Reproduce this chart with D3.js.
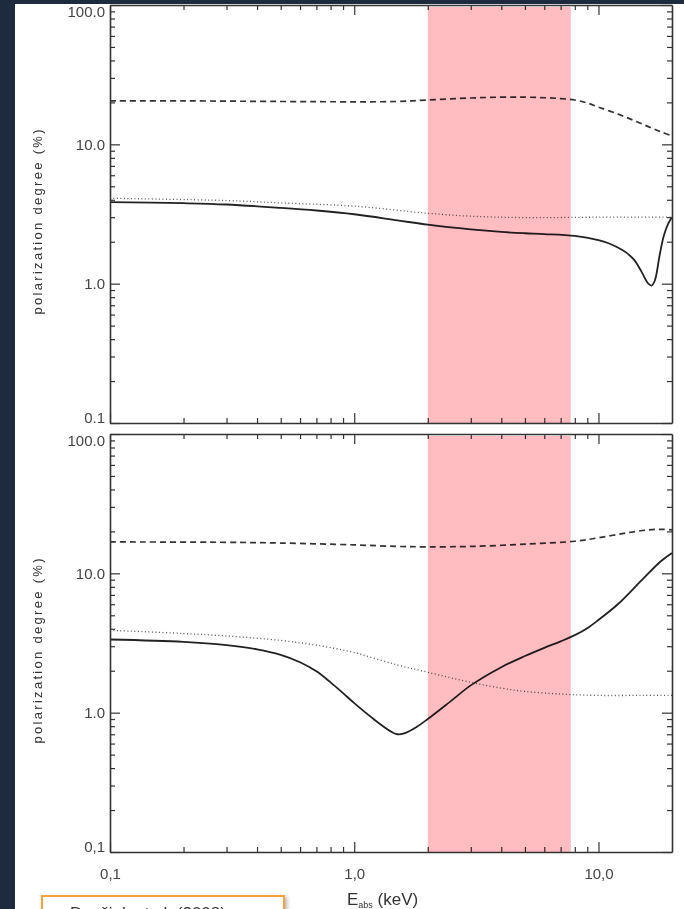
<!DOCTYPE html>
<html>
<head>
<meta charset="utf-8">
<script src="https://cdn.jsdelivr.net/npm/d3@7"></script>
<style>
  body { margin: 0; background: #1e2b3e; }
  svg { display: block; }
  text { font-family: "Liberation Sans", Arial, sans-serif; }
</style>
</head>
<body>
<div id="graph"></div>
<script>
// Energy band highlighted in pink (keV)
const band = [2, 7.7]

// Top panel curves: [energy keV, polarization %]
const topDashed = [[0.1, 20.5], [0.2, 20.5], [0.5, 20.3], [1, 20.2], [1.5, 20.3], [2, 20.8], [3, 21.5], [4, 21.8], [5, 21.8], [6, 21.6], [7, 21.3], [8, 20.8], [9, 19.8], [10, 18.5], [12, 16.5], [14, 14.8], [16, 13.4], [18, 12.3], [20, 11.5]]
const topSolid = [[0.1, 3.85], [0.2, 3.78], [0.3, 3.7], [0.5, 3.5], [0.7, 3.35], [1, 3.15], [1.5, 2.85], [2, 2.65], [3, 2.45], [4, 2.35], [5, 2.3], [6, 2.27], [8, 2.2], [10, 2.05], [11, 1.95], [12, 1.82], [13, 1.67], [14, 1.48], [15, 1.22], [16, 1.0], [16.5, 0.97], [17, 1.05], [17.8, 1.6], [18.5, 2.2], [19.3, 2.7], [20, 3.0]]
const topDotted = [[0.1, 4.1], [0.3, 3.95], [0.5, 3.8], [1, 3.6], [2, 3.2], [3, 3.05], [5, 2.98], [10, 3.0], [20, 3.0]]

// Bottom panel curves
const botDashed = [[0.1, 16.8], [0.3, 16.7], [0.5, 16.5], [1, 16.0], [1.5, 15.6], [2, 15.5], [3, 15.6], [5, 16.2], [8, 17.0], [10, 18.0], [13, 19.5], [16, 20.5], [18, 20.7], [20, 20.5]]
const botSolid = [[0.1, 3.35], [0.2, 3.22], [0.3, 3.05], [0.4, 2.85], [0.5, 2.6], [0.6, 2.3], [0.7, 1.98], [0.8, 1.65], [0.9, 1.38], [1.0, 1.17], [1.2, 0.9], [1.4, 0.74], [1.5, 0.7], [1.6, 0.71], [1.8, 0.79], [2, 0.9], [2.5, 1.22], [3, 1.57], [4, 2.12], [5, 2.55], [6, 2.92], [7, 3.25], [8, 3.6], [9, 4.04], [10, 4.63], [12, 6.0], [15, 8.9], [18, 12.2], [20, 14.0]]
const botDotted = [[0.1, 3.9], [0.2, 3.7], [0.3, 3.55], [0.5, 3.3], [0.7, 3.05], [1, 2.7], [1.5, 2.2], [2, 1.95], [3, 1.65], [4, 1.5], [5, 1.42], [7, 1.36], [10, 1.33], [15, 1.33], [20, 1.33]]

// Ticks
const xMajor = [0.1, 1, 10]
const xMajorLabels = ['0,1', '1,0', '10,0']
const xMinor = [0.2, 0.3, 0.4, 0.5, 0.6, 0.7, 0.8, 0.9, 2, 3, 4, 5, 6, 7, 8, 9]
const yMajor = [0.1, 1, 10, 100]
const yTopLabels = ['0.1', '1.0', '10.0', '100.0']
const yBotLabels = ['0,1', '1.0', '10.0', '100.0']
const yMinor = [0.2, 0.3, 0.4, 0.5, 0.6, 0.7, 0.8, 0.9, 2, 3, 4, 5, 6, 7, 8, 9, 20, 30, 40, 50, 60, 70, 80, 90]

const W = 684, H = 909
const svg = d3.select('#graph').append('svg').attr('width', W).attr('height', H)

// page background: white slide with dark frame on left/top
svg.append('rect').attr('width', W).attr('height', H).attr('fill', '#1e2b3e')
svg.append('rect').attr('x', 15).attr('y', 4).attr('width', W - 15).attr('height', H - 4).attr('fill', '#fff')

const x = d3.scaleLog().domain([0.1, 20]).range([110, 672])
const panels = [
  { y: d3.scaleLog().domain([0.1, 100]).range([423, 5]), series: [topDashed, topSolid, topDotted], labels: yTopLabels, xlabels: false },
  { y: d3.scaleLog().domain([0.1, 100]).range([852, 434]), series: [botDashed, botSolid, botDotted], labels: yBotLabels, xlabels: true }
]

const styles = [
  { stroke: '#333', width: 1.7, dash: '6,4' },
  { stroke: '#222', width: 1.8, dash: null },
  { stroke: '#555', width: 1.3, dash: '1,2.5' }
]

panels.forEach(function (p) {
  const y = p.y
  const [yb, yt] = y.range()
  const g = svg.append('g')

  // curves
  p.series.forEach(function (data, i) {
    g.append('path')
      .datum(data)
      .attr('fill', 'none')
      .attr('stroke', styles[i].stroke)
      .attr('stroke-width', styles[i].width)
      .attr('stroke-dasharray', styles[i].dash)
      .attr('d', d3.line()
        .x(function (d) { return x(d[0]) })
        .y(function (d) { return y(d[1]) })
        .curve(d3.curveCatmullRom.alpha(0.5)))
  })

  // axes, all ticks pointing inward
  const axes = [
    ['left', x.range()[0], y, yMajor, yMinor],
    ['right', x.range()[1], y, yMajor, yMinor],
    ['top', yt, x, xMajor, xMinor],
    ['bottom', yb, x, xMajor, xMinor]
  ]
  axes.forEach(function (a) {
    const make = { left: d3.axisLeft, right: d3.axisRight, top: d3.axisTop, bottom: d3.axisBottom }[a[0]]
    const horiz = a[0] === 'top' || a[0] === 'bottom'
    const tr = horiz ? 'translate(0,' + a[1] + ')' : 'translate(' + a[1] + ',0)'
    const major = g.append('g').attr('class', 'ax-' + a[0]).attr('transform', tr)
      .call(make(a[2]).tickValues(a[3]).tickSizeInner(-10).tickSizeOuter(0).tickPadding(a[0] === 'bottom' ? 16 : 5)
        .tickFormat(function (d, i) {
          if (a[0] === 'left') return p.labels[i]
          if (a[0] === 'bottom' && p.xlabels) return xMajorLabels[i]
          return ''
        }))
    g.append('g').attr('transform', tr)
      .call(make(a[2]).tickValues(a[4]).tickSizeInner(-5).tickSizeOuter(0).tickFormat(''))
      .select('.domain').remove()
    major.select('.domain').attr('stroke', '#333').attr('stroke-width', 1.6)
  })
  g.selectAll('.tick line').attr('stroke', '#333').attr('stroke-width', 1.2)
  g.selectAll('.tick text').attr('font-size', 15).attr('fill', '#444')
    .attr('font-family', '"Liberation Sans", Arial, sans-serif')
  // end labels sit inside the panel range, as in the original
  g.selectAll('.ax-left .tick text').attr('dy', function (d) {
    if (d === 0.1) return '-0.05em'
    if (d === 100) return '0.75em'
    return '0.32em'
  })

  // y label
  svg.append('text')
    .attr('transform', 'translate(42,' + ((yb + yt) / 2 + 8) + ') rotate(-90)')
    .attr('text-anchor', 'middle')
    .attr('font-size', 13)
    .attr('fill', '#333')
    .attr('textLength', 185)
    .attr('lengthAdjust', 'spacing')
    .text('polarization degree (%)')

  // highlighted band, multiplied over the drawing
  svg.append('rect')
    .attr('x', x(band[0]))
    .attr('width', x(band[1]) - x(band[0]))
    .attr('y', yt + 2)
    .attr('height', yb - yt - 2)
    .attr('fill', '#ffbdc2')
    .style('mix-blend-mode', 'multiply')
})

// x label
const xl = svg.append('text').attr('x', 347).attr('y', 905).attr('font-size', 17).attr('fill', '#333')
xl.append('tspan').text('E')
xl.append('tspan').attr('font-size', 9).attr('dy', 3).text('abs')
xl.append('tspan').attr('dy', -3).text(' (keV)')

// citation box, cut off at the bottom of the slide
const defs = svg.append('defs')
const f = defs.append('filter').attr('id', 'shadow')
f.append('feDropShadow').attr('dx', 2).attr('dy', 2).attr('stdDeviation', 2).attr('flood-opacity', 0.3)
svg.append('rect').attr('x', 42).attr('y', 896).attr('width', 242).attr('height', 40)
  .attr('fill', '#fff').attr('stroke', '#f7a13a').attr('stroke-width', 2).attr('filter', 'url(#shadow)')
svg.append('text').attr('x', 70).attr('y', 919).attr('font-size', 17).attr('fill', '#333')
  .text('Dovčiak et al. (2008)')
</script>
</body>
</html>
